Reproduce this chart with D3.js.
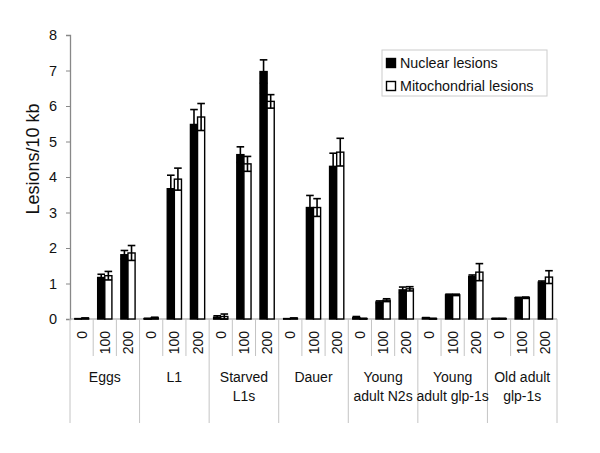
<!DOCTYPE html>
<html>
<head>
<meta charset="utf-8">
<script src="https://cdn.jsdelivr.net/npm/d3@7"></script>
<style>
  body { margin: 0; background: #fff; }
  svg { font-family: "Liberation Sans", Arial, sans-serif; }
</style>
</head>
<body>
<div id="chart"></div>
<script>
// data
var groups = [["Eggs"], ["L1"], ["Starved", "L1s"], ["Dauer"], ["Young", "adult N2s"], ["Young", "adult glp-1s"], ["Old adult", "glp-1s"]];
var doses = ["0", "100", "200"];
var nuclear =    [0.00, 1.17, 1.81,  0.01, 3.67, 5.48,  0.05, 4.63, 6.97,  0.00, 3.14, 4.30,  0.04, 0.48, 0.82,  0.03, 0.68, 1.20,  0.01, 0.60, 1.04];
var nuclearErr = [0.01, 0.09, 0.12,  0.01, 0.38, 0.42,  0.04, 0.22, 0.33,  0.01, 0.34, 0.37,  0.03, 0.03, 0.08,  0.01, 0.02, 0.04,  0.01, 0.01, 0.03];
var mito =       [0.02, 1.22, 1.86,  0.03, 3.94, 5.69,  0.07, 4.37, 6.13,  0.02, 3.14, 4.70,  0.01, 0.53, 0.85,  0.01, 0.68, 1.32,  0.01, 0.60, 1.18];
var mitoErr =    [0.01, 0.12, 0.21,  0.02, 0.31, 0.38,  0.07, 0.21, 0.19,  0.01, 0.25, 0.39,  0.01, 0.04, 0.06,  0.01, 0.02, 0.24,  0.01, 0.02, 0.18];
var yTicks = [0, 1, 2, 3, 4, 5, 6, 7, 8];

var width = 600, height = 453;
var margin = {top: 35, right: 43, bottom: 134, left: 70};
var innerW = width - margin.left - margin.right;
var innerH = height - margin.top - margin.bottom;

// one row per category (group x dose)
var rows = [];
groups.forEach(function(g, gi) {
  doses.forEach(function(d, di) {
    var i = gi * doses.length + di;
    rows.push({key: i, group: gi, dose: d,
      vals: [{s: "n", v: nuclear[i], e: nuclearErr[i]}, {s: "m", v: mito[i], e: mitoErr[i]}]});
  });
});

var svg = d3.select("#chart").append("svg")
  .attr("width", width).attr("height", height);
var g = svg.append("g").attr("transform", "translate(" + margin.left + "," + margin.top + ")");

var x0 = d3.scaleBand().domain(rows.map(function(d) { return d.key; })).range([0, innerW]);
var x1 = d3.scaleBand().domain(["n", "m"]).range([0, x0.bandwidth()]).paddingOuter(0.63);
var y = d3.scaleLinear().domain([0, 8]).range([innerH, 0]);

// y axis
var yAxis = g.append("g").call(d3.axisLeft(y).tickValues(yTicks).tickSize(4).tickPadding(9).tickFormat(d3.format("d")));
yAxis.select(".domain").attr("stroke", "#888").attr("stroke-width", 1.3);
yAxis.selectAll(".tick line").attr("stroke", "#888");
yAxis.selectAll(".tick text").attr("font-size", 14.5).attr("fill", "#111").attr("font-family", "Liberation Sans, Arial, sans-serif");

svg.append("text")
  .attr("transform", "translate(39," + (margin.top + innerH / 2 - 18) + ") rotate(-90)")
  .attr("text-anchor", "middle")
  .attr("font-size", 18)
  .attr("fill", "#111")
  .text("Lesions/10 kb");

// category lines under the axis
var lineCol = "#c4c4c4";
g.append("line").attr("x1", 0).attr("x2", innerW).attr("y1", innerH).attr("y2", innerH)
  .attr("stroke", "#999").attr("stroke-width", 1.2);

rows.forEach(function(r, i) {
  var xs = x0(r.key);
  var isGroupEdge = (i % doses.length) === 0;
  g.append("line")
    .attr("x1", xs).attr("x2", xs)
    .attr("y1", innerH)
    .attr("y2", innerH + (isGroupEdge ? 104 : 37))
    .attr("stroke", lineCol);
});
g.append("line")
  .attr("x1", innerW).attr("x2", innerW)
  .attr("y1", innerH).attr("y2", innerH + 104)
  .attr("stroke", lineCol);

// dose labels, rotated
g.selectAll(".dose").data(rows).enter().append("text")
  .attr("class", "dose")
  .attr("transform", function(d) {
    return "translate(" + (x0(d.key) + x0.bandwidth() / 2 + 5) + "," + (innerH + 12) + ") rotate(-90)";
  })
  .attr("text-anchor", "end")
  .attr("font-size", 14)
  .attr("fill", "#111")
  .text(function(d) { return d.dose; });

// group labels
groups.forEach(function(lines, gi) {
  var first = x0(gi * doses.length);
  var last = x0(gi * doses.length + doses.length - 1) + x0.bandwidth();
  var t = g.append("text")
    .attr("text-anchor", "middle")
    .attr("font-size", 14)
    .attr("fill", "#111");
  lines.forEach(function(l, li) {
    t.append("tspan")
      .attr("x", (first + last) / 2)
      .attr("y", innerH + 63 + li * 19)
      .text(l);
  });
});

// bars
var cat = g.selectAll(".cat").data(rows).enter().append("g")
  .attr("class", "cat")
  .attr("transform", function(d) { return "translate(" + x0(d.key) + ",0)"; });

cat.selectAll("rect").data(function(d) { return d.vals; }).enter().append("rect")
  .attr("x", function(d) { return x1(d.s); })
  .attr("width", x1.bandwidth())
  .attr("y", function(d) { return y(d.v); })
  .attr("height", function(d) { return innerH - y(d.v); })
  .attr("fill", function(d) { return d.s === "n" ? "#000" : "#fff"; })
  .attr("stroke", "#000")
  .attr("stroke-width", 1.4);

// error bars (plus / minus with caps)
var eb = cat.selectAll(".err").data(function(d) { return d.vals; }).enter().append("g")
  .attr("class", "err")
  .attr("stroke", "#000")
  .attr("stroke-width", 1.6);
var capW = 3.8;
eb.append("line")
  .attr("x1", function(d) { return x1(d.s) + x1.bandwidth() / 2; })
  .attr("x2", function(d) { return x1(d.s) + x1.bandwidth() / 2; })
  .attr("y1", function(d) { return y(Math.max(0, d.v - d.e)); })
  .attr("y2", function(d) { return y(d.v + d.e); });
eb.append("line")
  .attr("x1", function(d) { return x1(d.s) + x1.bandwidth() / 2 - capW; })
  .attr("x2", function(d) { return x1(d.s) + x1.bandwidth() / 2 + capW; })
  .attr("y1", function(d) { return y(d.v + d.e); })
  .attr("y2", function(d) { return y(d.v + d.e); });
eb.append("line")
  .attr("x1", function(d) { return x1(d.s) + x1.bandwidth() / 2 - capW; })
  .attr("x2", function(d) { return x1(d.s) + x1.bandwidth() / 2 + capW; })
  .attr("y1", function(d) { return y(Math.max(0, d.v - d.e)); })
  .attr("y2", function(d) { return y(Math.max(0, d.v - d.e)); });

// legend
var legend = svg.append("g").attr("transform", "translate(382,50)");
legend.append("rect").attr("width", 165).attr("height", 46)
  .attr("fill", "#fff").attr("stroke", "#ccc");
var legendItems = [{label: "Nuclear lesions", fill: "#000"}, {label: "Mitochondrial lesions", fill: "#fff"}];
legendItems.forEach(function(it, i) {
  legend.append("rect")
    .attr("x", 4.5).attr("y", 8.5 + i * 23)
    .attr("width", 9).attr("height", 9)
    .attr("fill", it.fill).attr("stroke", "#000").attr("stroke-width", 1.4);
  legend.append("text")
    .attr("x", 18).attr("y", 18 + i * 23)
    .attr("font-size", 14.3)
    .attr("fill", "#111")
    .text(it.label);
});
</script>
</body>
</html>
